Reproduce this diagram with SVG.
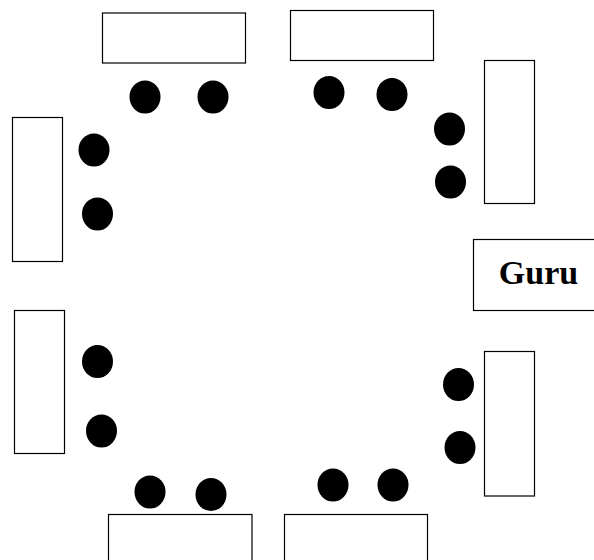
<svg xmlns="http://www.w3.org/2000/svg" width="594" height="560" viewBox="0 0 594 560">
  <style>
    .desk { fill: #fff; stroke: #000; stroke-width: 1.2; }
    .seat { fill: #000; }
    .label { font-family: "Liberation Serif", "Times New Roman", serif; font-weight: bold; font-size: 34px; fill: #000; }
  </style>
  <rect width="594" height="560" fill="#fff"/>

  <!-- top desks -->
  <g id="desk-top-left">
    <rect class="desk" x="102.5" y="13" width="143" height="50"/>
    <ellipse class="seat" cx="145" cy="97" rx="15.5" ry="16.5"/>
    <ellipse class="seat" cx="213" cy="97" rx="15.5" ry="16.5"/>
  </g>
  <g id="desk-top-right">
    <rect class="desk" x="290.5" y="10.5" width="143" height="50"/>
    <ellipse class="seat" cx="329" cy="92.5" rx="15.5" ry="16.5"/>
    <ellipse class="seat" cx="392" cy="94.5" rx="15.5" ry="16.5"/>
  </g>

  <!-- left desks -->
  <g id="desk-left-upper">
    <rect class="desk" x="12.5" y="117.5" width="50" height="144"/>
    <ellipse class="seat" cx="94" cy="150" rx="15.5" ry="16.5"/>
    <ellipse class="seat" cx="97.5" cy="214" rx="15.5" ry="16.5"/>
  </g>
  <g id="desk-left-lower">
    <rect class="desk" x="14.5" y="310.5" width="50" height="143"/>
    <ellipse class="seat" cx="97.5" cy="361.5" rx="15.5" ry="16.5"/>
    <ellipse class="seat" cx="101.5" cy="431" rx="15.5" ry="16.5"/>
  </g>

  <!-- right desks -->
  <g id="desk-right-upper">
    <rect class="desk" x="484.5" y="60.5" width="50" height="143"/>
    <ellipse class="seat" cx="449.5" cy="129" rx="15.5" ry="16.5"/>
    <ellipse class="seat" cx="450.5" cy="182" rx="15.5" ry="16.5"/>
  </g>
  <g id="desk-right-lower">
    <rect class="desk" x="484.5" y="351.5" width="50" height="144.5"/>
    <ellipse class="seat" cx="458.5" cy="384.5" rx="15.5" ry="16.5"/>
    <ellipse class="seat" cx="460" cy="447.5" rx="15.5" ry="16.5"/>
  </g>

  <!-- bottom desks -->
  <g id="desk-bottom-left">
    <rect class="desk" x="108.5" y="514.5" width="143.5" height="60"/>
    <ellipse class="seat" cx="150" cy="492" rx="15.5" ry="16.5"/>
    <ellipse class="seat" cx="211" cy="494.5" rx="15.5" ry="16.5"/>
  </g>
  <g id="desk-bottom-right">
    <rect class="desk" x="284.5" y="514.5" width="143" height="60"/>
    <ellipse class="seat" cx="333" cy="485" rx="15.5" ry="16.5"/>
    <ellipse class="seat" cx="393" cy="485" rx="15.5" ry="16.5"/>
  </g>

  <!-- teacher -->
  <g id="guru">
    <rect class="desk" x="473.5" y="239.5" width="125" height="71"/>
    <text class="label" x="538.5" y="284" text-anchor="middle">Guru</text>
  </g>

  <g id="connectors"></g>
</svg>
